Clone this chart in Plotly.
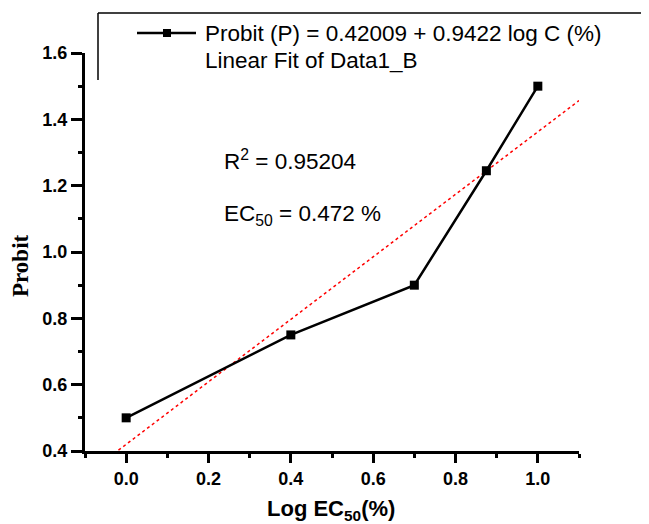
import plotly.graph_objects as go

# data
log_c = [0.0, 0.4, 0.7, 0.875, 1.0]
probit = [0.5, 0.75, 0.9, 1.245, 1.5]

fit_intercept = 0.42009
fit_slope = 0.9422
fit_x = [-0.1, 1.1]
fit_y = [fit_intercept + fit_slope * v for v in fit_x]

x_ticks = [0.0, 0.2, 0.4, 0.6, 0.8, 1.0]
y_ticks = [0.4, 0.6, 0.8, 1.0, 1.2, 1.4, 1.6]

fig = go.Figure()
fig.add_trace(go.Scatter(x=fit_x, y=fit_y, mode="lines",
                         line=dict(color="red", width=1.5, dash="dot"),
                         showlegend=False, hoverinfo="skip"))
fig.add_trace(go.Scatter(x=log_c, y=probit, mode="lines+markers",
                         line=dict(color="black", width=2.5),
                         marker=dict(symbol="square", size=9, color="black"),
                         showlegend=False, cliponaxis=False))

axis_common = dict(
    showline=True, linecolor="black", linewidth=3,
    tickwidth=2.5, tickcolor="black", ticks="outside",
    showgrid=False, zeroline=False,
    tickfont=dict(family="Liberation Sans, Arial", size=18, color="black", weight="bold"),
    minor=dict(ticks="outside", ticklen=4, tickwidth=2.5, tickcolor="black", dtick=0.1, showgrid=False),
)

fig.update_xaxes(range=[-0.1, 1.1], tickvals=x_ticks, ticktext=[f"{v:.1f}" for v in x_ticks],
                 ticklen=9, **axis_common)
fig.update_yaxes(range=[0.4, 1.6], tickvals=y_ticks, ticktext=[f"{v:.1f}" for v in y_ticks],
                 ticklen=11, **axis_common)

def px_x(px):
    return (px - 85) / 494.0

def px_y(py):
    return (451 - py) / 398.0

shapes = [
    dict(type="line", xref="paper", yref="paper", x0=px_x(98), x1=px_x(649), y0=px_y(13), y1=px_y(13),
         line=dict(color="black", width=1.5)),
    dict(type="line", xref="paper", yref="paper", x0=px_x(98), x1=px_x(98), y0=px_y(13), y1=px_y(80),
         line=dict(color="black", width=1.5)),
    dict(type="line", xref="paper", yref="paper", x0=px_x(137), x1=px_x(196), y0=px_y(33), y1=px_y(33),
         line=dict(color="black", width=2.5)),
    dict(type="rect", xref="paper", yref="paper", x0=px_x(163), x1=px_x(171), y0=px_y(29), y1=px_y(37),
         line=dict(width=0), fillcolor="black"),
]

txt = dict(family="Liberation Sans, Arial", size=22.5, color="black")
annotations = [
    dict(xref="paper", yref="paper", x=px_x(203), y=px_y(33), xanchor="left", yanchor="middle",
         text="Probit (P) = 0.42009 + 0.9422 log C (%)", showarrow=False, font=txt),
    dict(xref="paper", yref="paper", x=px_x(203), y=px_y(60), xanchor="left", yanchor="middle",
         text="Linear Fit of Data1_B", showarrow=False, font=txt),
    dict(xref="paper", yref="paper", x=px_x(222), y=px_y(160), xanchor="left", yanchor="middle",
         text="R<sup>2</sup> = 0.95204", showarrow=False, font=txt),
    dict(xref="paper", yref="paper", x=px_x(222), y=px_y(215), xanchor="left", yanchor="middle",
         text="EC<sub>50</sub> = 0.472 %", showarrow=False, font=txt),
    dict(xref="paper", yref="paper", x=px_x(20), y=px_y(266), xanchor="center", yanchor="middle",
         text="<b>Probit</b>", textangle=-90, showarrow=False,
         font=dict(family="Liberation Serif, Times New Roman", size=23, color="black")),
    dict(xref="paper", yref="paper", x=px_x(331), y=px_y(510), xanchor="center", yanchor="middle",
         text="<b>Log EC<sub>50</sub>(%)</b>", showarrow=False,
         font=dict(family="Liberation Sans, Arial", size=22, color="black")),
]

# page body has an 8px default margin; compensate so the plot area sits where the reference has it
fig.update_layout(
    width=641, height=516,
    margin=dict(l=77, r=70, t=45, b=73),
    plot_bgcolor="white", paper_bgcolor="white",
    shapes=shapes, annotations=annotations,
    showlegend=False,
)

fig.write_html("out.html")
